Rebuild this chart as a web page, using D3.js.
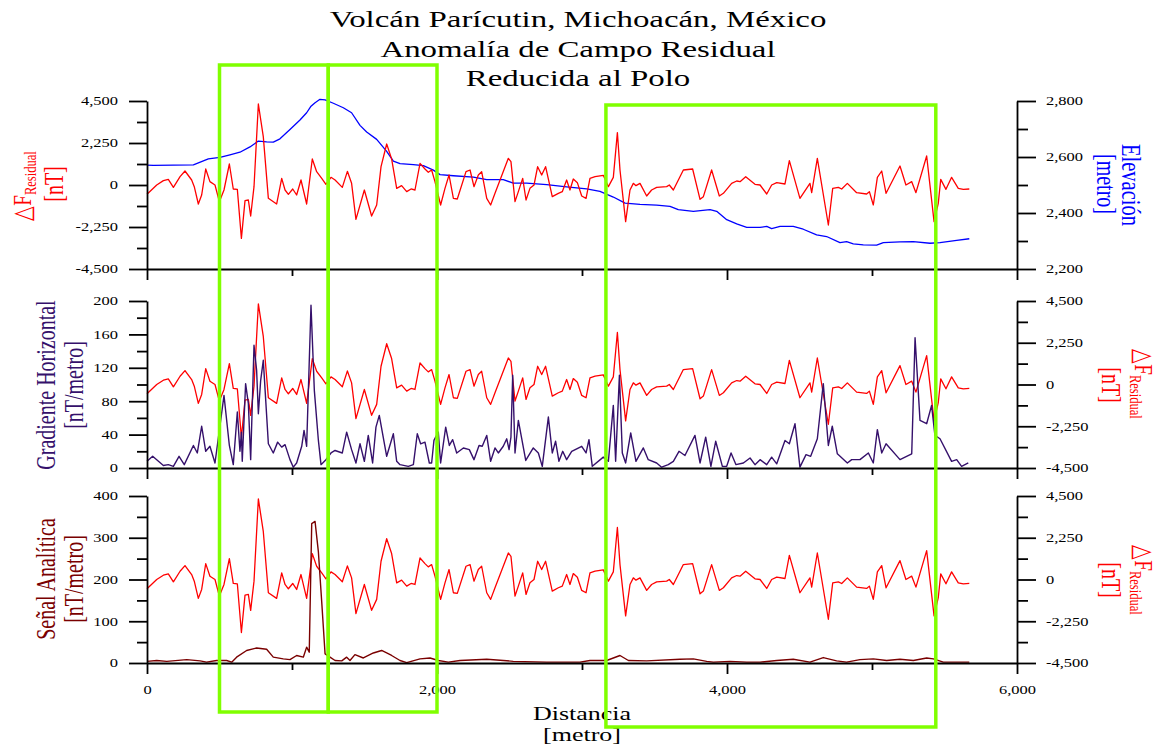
<!DOCTYPE html>
<html>
<head>
<meta charset="utf-8">
<script src="https://cdn.jsdelivr.net/npm/d3@7"></script>
<style>
  body { margin: 0; background: #fff; }
  svg { display: block; font-family: "Liberation Serif", "Times New Roman", serif; }
</style>
</head>
<body>
<svg id="chart" width="1159" height="747"></svg>
<script>
// ---- data (distance in metres, value) ----
const residual = [
  [0,-500],[67,0],[113,232],[147,304],[182,-125],[228,446],[262,750],[308,268],[326,-89],[354,-1018],
  [377,-536],[405,857],[434,179],[469,0],[499,-893],[531,-268],[568,1125],[595,-214],[623,-232],[651,-2857],
  [676,-839],[699,-804],[715,-1661],[738,-89],[768,4340],[802,2589],[837,-714],[894,-1018],[929,357],[952,-268],
  [975,-500],[1005,-214],[1032,-536],[1062,268],[1101,-1018],[1140,1393],[1170,714],[1205,357],[1234,36],[1269,411],
  [1297,268],[1347,-125],[1382,732],[1411,89],[1441,-1839],[1499,-268],[1549,-1661],[1584,-1071],[1614,982],[1653,2196],
  [1687,1400],[1722,-179],[1756,-36],[1791,-357],[1821,-214],[1848,-268],[1883,1161],[1917,857],[1940,679],[1963,804],
  [1986,179],[2025,-1071],[2055,-179],[2083,536],[2113,-714],[2140,-750],[2200,714],[2228,804],[2255,-89],[2285,536],
  [2308,714],[2343,-714],[2370,-1071],[2400,-446],[2492,1429],[2510,1250],[2538,-893],[2561,-357],[2591,357],[2614,-804],
  [2641,-179],[2669,0],[2694,982],[2722,536],[2749,982],[2795,-625],[2837,-446],[2864,-357],[2894,268],[2917,-268],
  [2940,321],[2968,125],[2998,-589],[3028,-714],[3055,357],[3090,446],[3147,518],[3182,-89],[3216,411],[3244,2804],
  [3262,804],[3301,-1964],[3331,-268],[3354,89],[3372,-36],[3400,89],[3446,-589],[3480,-268],[3515,-125],[3584,-89],
  [3602,0],[3630,-268],[3699,804],[3763,857],[3814,-768],[3837,-625],[3894,804],[3947,-589],[3975,-446],[4032,89],
  [4067,214],[4090,179],[4129,446],[4193,36],[4228,0],[4274,-482],[4308,0],[4343,125],[4400,54],[4430,1304],
  [4503,-714],[4572,89],[4584,-411],[4623,1429],[4699,-2143],[4729,-179],[4768,-125],[4791,-214],[4830,89],[4894,-411],
  [4963,-482],[4982,-357],[5009,-1071],[5037,411],[5067,750],[5097,-446],[5193,1018],[5234,0],[5274,179],[5303,-411],
  [5377,1554],[5428,-1964],[5457,-982],[5474,304],[5510,-232],[5549,411],[5595,-179],[5630,-232],[5671,-214]
];

const elevation = [
  [0,2571],[44,2570],[320,2572],[423,2593],[503,2599],[572,2608],[641,2617],[710,2636],[768,2657],[825,2654],
  [871,2653],[917,2665],[986,2698],[1055,2732],[1101,2758],[1129,2780],[1159,2794],[1193,2806],[1228,2804],[1285,2792],
  [1354,2776],[1411,2758],[1469,2713],[1515,2689],[1584,2663],[1653,2620],[1699,2585],[1745,2576],[1837,2573],[1906,2569],
  [1975,2553],[2021,2537],[2113,2533],[2251,2528],[2343,2519],[2457,2519],[2526,2507],[2618,2507],[2756,2501],[2894,2493],
  [3032,2486],[3124,2477],[3216,2457],[3297,2435],[3400,2431],[3515,2428],[3607,2424],[3664,2412],[3768,2406],[3883,2412],
  [3929,2406],[3998,2376],[4067,2361],[4136,2349],[4228,2349],[4274,2352],[4308,2344],[4366,2352],[4457,2352],[4526,2342],
  [4618,2322],[4687,2316],[4779,2294],[4825,2298],[4871,2290],[4940,2286],[5032,2285],[5078,2294],[5193,2297],[5285,2298],
  [5400,2292],[5469,2294],[5584,2302],[5671,2308]
];

const gradient = [
  [0,8],[39,14],[113,3],[147,4],[182,2],[221,14],[257,4],[320,27],[347,18],[377,50],
  [405,20],[434,26],[469,6],[499,45],[531,87],[568,27],[595,4],[623,67],[641,20],[651,43],
  [657,8],[680,101],[699,77],[715,10],[738,147],[756,117],[768,65],[784,105],[802,129],[837,29],
  [871,18],[901,31],[929,25],[952,28],[986,10],[1009,1],[1032,6],[1067,26],[1083,45],[1101,26],
  [1131,195],[1154,93],[1182,33],[1200,4],[1234,10],[1269,18],[1297,21],[1347,18],[1377,43],[1411,22],
  [1441,6],[1469,29],[1499,8],[1526,39],[1556,6],[1579,49],[1602,63],[1653,14],[1699,41],[1722,8],
  [1745,4],[1802,2],[1837,4],[1864,41],[1887,29],[1917,31],[1947,6],[1963,6],[1979,33],[2009,43],
  [2025,6],[2060,49],[2085,27],[2108,34],[2136,18],[2182,24],[2223,22],[2255,10],[2290,27],[2312,26],
  [2343,39],[2370,8],[2400,24],[2423,18],[2457,26],[2481,35],[2497,22],[2510,37],[2522,111],[2538,18],
  [2561,57],[2612,9],[2664,24],[2699,18],[2726,2],[2768,61],[2795,18],[2818,32],[2841,8],[2867,20],
  [2894,10],[2929,20],[2998,26],[3028,18],[3048,34],[3071,2],[3147,13],[3182,8],[3216,75],[3232,8],
  [3258,111],[3278,18],[3301,6],[3336,42],[3372,8],[3423,24],[3457,10],[3515,6],[3549,1],[3595,4],
  [3630,8],[3669,20],[3710,15],[3779,39],[3814,6],[3853,37],[3889,2],[3922,32],[3968,2],[3998,2],
  [4028,18],[4062,4],[4113,6],[4159,12],[4193,4],[4228,10],[4274,4],[4308,13],[4343,5],[4400,33],
  [4430,29],[4469,53],[4503,1],[4545,16],[4577,14],[4623,35],[4664,101],[4699,27],[4726,50],[4761,17],
  [4830,6],[4860,10],[4917,10],[4975,18],[5009,6],[5037,46],[5067,18],[5097,29],[5193,10],[5274,17],
  [5297,156],[5331,57],[5377,53],[5411,75],[5434,39],[5469,35],[5549,8],[5584,10],[5618,2],[5664,6]
];

const analytic = [
  [0,4],[67,6],[136,4],[274,8],[366,5],[411,2],[480,6],[549,6],[584,2],[618,14],
  [687,30],[756,36],[825,33],[871,14],[940,10],[986,8],[1032,18],[1078,14],[1101,38],[1119,26],
  [1136,334],[1159,339],[1182,266],[1205,146],[1228,22],[1262,14],[1297,6],[1343,5],[1377,14],[1400,6],
  [1434,20],[1492,12],[1561,24],[1618,30],[1653,24],[1687,18],[1745,6],[1791,1],[1883,10],[1952,12],
  [2009,6],[2078,2],[2159,6],[2343,9],[2526,4],[2756,2],[2986,2],[3055,6],[3170,6],[3262,18],
  [3320,6],[3446,5],[3676,9],[3768,10],[3860,4],[3906,2],[4021,4],[4136,2],[4228,2],[4343,6],
  [4457,9],[4572,2],[4664,13],[4756,5],[4825,2],[4917,8],[5009,10],[5101,6],[5193,9],[5285,6],
  [5377,12],[5423,10],[5492,2],[5607,2],[5671,2]
];

// tick values
const residualMajor = [-4500, -2250, 0, 2250, 4500];
const residualMinor = [-3375, -1125, 1125, 3375];
const elevMajor = [2200, 2400, 2600, 2800];
const elevMinor = [2300, 2500, 2700];
const gradMajor = [0, 40, 80, 120, 160, 200];
const gradMinor = [20, 60, 100, 140, 180];
const asMajor = [0, 100, 200, 300, 400];
const asMinor = [50, 150, 250, 350];
const distMajor = [0, 2000, 4000, 6000];
const distMinor = [1000, 3000, 5000];

// highlighted zones, metres
const zones = [[500, 1250], [1250, 2000], [3165, 5440]];

const titleLines = ["Volcán Parícutin, Michoacán, México", "Anomalía de Campo Residual", "Reducida al Polo"];

// ---- layout ----
const SX = 1.37;  // text in the picture is stretched sideways
const RED = "#ff0000", BLUE = "#0000ff", PURPLE = "#35106b", MAROON = "#7a0000", GREEN = "#80ff00";
const svg = d3.select("#chart");
const fmt = d3.formatLocale({decimal: ".", thousands: ",", grouping: [3], currency: ["", ""], minus: "-"}).format(",");

const x = d3.scaleLinear().domain([0, 6000]).range([147, 1017]);
const panels = [
  {top: 101, bottom: 269},
  {top: 301, bottom: 468},
  {top: 496, bottom: 663}
];

function yScale(p, domain) {
  return d3.scaleLinear().domain(domain).range([p.bottom, p.top]);
}

function drawYAxis(scale, side, major, minor) {
  const left = side === "left";
  const xpos = left ? x.range()[0] : x.range()[1];
  const g = svg.append("g").attr("transform", `translate(${xpos},0)`);
  const mk = left ? d3.axisLeft : d3.axisRight;
  g.call(mk(scale).tickValues(major).tickSize(left ? 18 : 19).tickSizeOuter(0).tickFormat(fmt));
  g.append("g").call(mk(scale).tickValues(minor).tickSize(left ? 10 : 11).tickFormat(""))
    .select(".domain").remove();
  g.attr("font-size", 12).attr("font-family", null);
  g.selectAll("path, line").attr("stroke", "#000").attr("stroke-width", 1.8);
  g.selectAll(".tick text")
    .attr("x", 0)
    .attr("fill", "#000")
    .attr("transform", `translate(${left ? -29 : 29},0) scale(${SX},1)`);
}

function drawXAxis(p, labels) {
  const g = svg.append("g").attr("transform", `translate(0,${p.bottom})`);
  g.call(d3.axisBottom(x).tickValues(distMajor).tickSize(11).tickSizeOuter(0).tickPadding(11)
    .tickFormat(labels ? fmt : ""));
  g.append("g").call(d3.axisBottom(x).tickValues(distMinor).tickSize(7).tickFormat(""))
    .select(".domain").remove();
  g.attr("font-size", 12).attr("font-family", null);
  g.selectAll("path, line").attr("stroke", "#000").attr("stroke-width", 1.8);
  g.selectAll(".tick text").attr("fill", "#000").attr("transform", `scale(${SX},1)`);
}

function drawLine(data, y, color, w) {
  svg.append("path")
    .datum(data)
    .attr("fill", "none")
    .attr("stroke", color)
    .attr("stroke-width", w || 1.3)
    .attr("stroke-linejoin", "round")
    .attr("d", d3.line().x(d => x(d[0])).y(d => y(d[1])));
}

// rotated label; parts = [[text, size, dy]]
function rotLabel(px, py, rot, parts, color) {
  const t = svg.append("text")
    .attr("transform", `translate(${px},${py}) scale(${SX},1) rotate(${rot})`)
    .attr("text-anchor", "middle")
    .attr("fill", color);
  parts.forEach(pt => {
    t.append("tspan").attr("font-size", pt[1]).attr("dy", pt[2] || 0).text(pt[0]);
  });
}

const deltaF = [["△F", 19, 0], ["Residual", 12.5, 4]];

// ---- top panel: residual + elevation ----
const yRes0 = yScale(panels[0], [-4500, 4500]);
const yElev = yScale(panels[0], [2200, 2800]);
drawLine(elevation, yElev, BLUE);
drawLine(residual, yRes0, RED);
drawYAxis(yRes0, "left", residualMajor, residualMinor);
drawYAxis(yElev, "right", elevMajor, elevMinor);
drawXAxis(panels[0], false);
rotLabel(31, 186, -90, deltaF, RED);
rotLabel(63, 184, -90, [["[nT]", 20]], RED);
rotLabel(1122, 185, 90, [["Elevación", 20.5]], BLUE);
rotLabel(1097, 184, 90, [["[metro]", 20]], BLUE);

// ---- middle panel: gradient + residual ----
const yGrad = yScale(panels[1], [0, 200]);
const yRes1 = yScale(panels[1], [-4500, 4500]);
drawLine(residual, yRes1, RED);
drawLine(gradient, yGrad, PURPLE, 1.4);
drawYAxis(yGrad, "left", gradMajor, gradMinor);
drawYAxis(yRes1, "right", residualMajor, residualMinor);
drawXAxis(panels[1], false);
rotLabel(55, 385, -90, [["Gradiente Horizontal", 20]], PURPLE);
rotLabel(83, 385, -90, [["[nT/metro]", 20]], PURPLE);
rotLabel(1102, 385, 90, [["[nT]", 20]], RED);
rotLabel(1135, 384, 90, deltaF, RED);

// ---- bottom panel: analytic signal + residual ----
const yAs = yScale(panels[2], [0, 400]);
const yRes2 = yScale(panels[2], [-4500, 4500]);
drawLine(residual, yRes2, RED);
drawLine(analytic, yAs, MAROON, 1.4);
drawYAxis(yAs, "left", asMajor, asMinor);
drawYAxis(yRes2, "right", residualMajor, residualMinor);
drawXAxis(panels[2], true);
rotLabel(55, 579, -90, [["Señal Analítica", 20]], MAROON);
rotLabel(83, 579, -90, [["[nT/metro]", 20]], MAROON);
rotLabel(1102, 580, 90, [["[nT]", 20]], RED);
rotLabel(1135, 580, 90, deltaF, RED);

// ---- x title ----
svg.append("text").attr("transform", `translate(${x(3000)},720) scale(${SX},1)`)
  .attr("text-anchor", "middle").attr("font-size", 19).text("Distancia");
svg.append("text").attr("transform", `translate(${x(3000)},741) scale(${SX},1)`)
  .attr("text-anchor", "middle").attr("font-size", 19).text("[metro]");

// ---- title ----
titleLines.forEach((s, i) => {
  svg.append("text")
    .attr("transform", `translate(578,${27 + i * 29.5}) scale(${SX},1)`)
    .attr("text-anchor", "middle")
    .attr("font-size", 24)
    .text(s);
});

// ---- highlighted zones ----
const zoneTop = [65, 65, 105], zoneBottom = [712, 712, 727];
svg.selectAll("rect.zone")
  .data(zones)
  .enter()
  .append("rect")
  .attr("class", "zone")
  .attr("x", d => x(d[0]))
  .attr("width", d => x(d[1]) - x(d[0]))
  .attr("y", (d, i) => zoneTop[i])
  .attr("height", (d, i) => zoneBottom[i] - zoneTop[i])
  .attr("fill", "none")
  .attr("stroke", GREEN)
  .attr("stroke-width", 3.5);
</script>
</body>
</html>
